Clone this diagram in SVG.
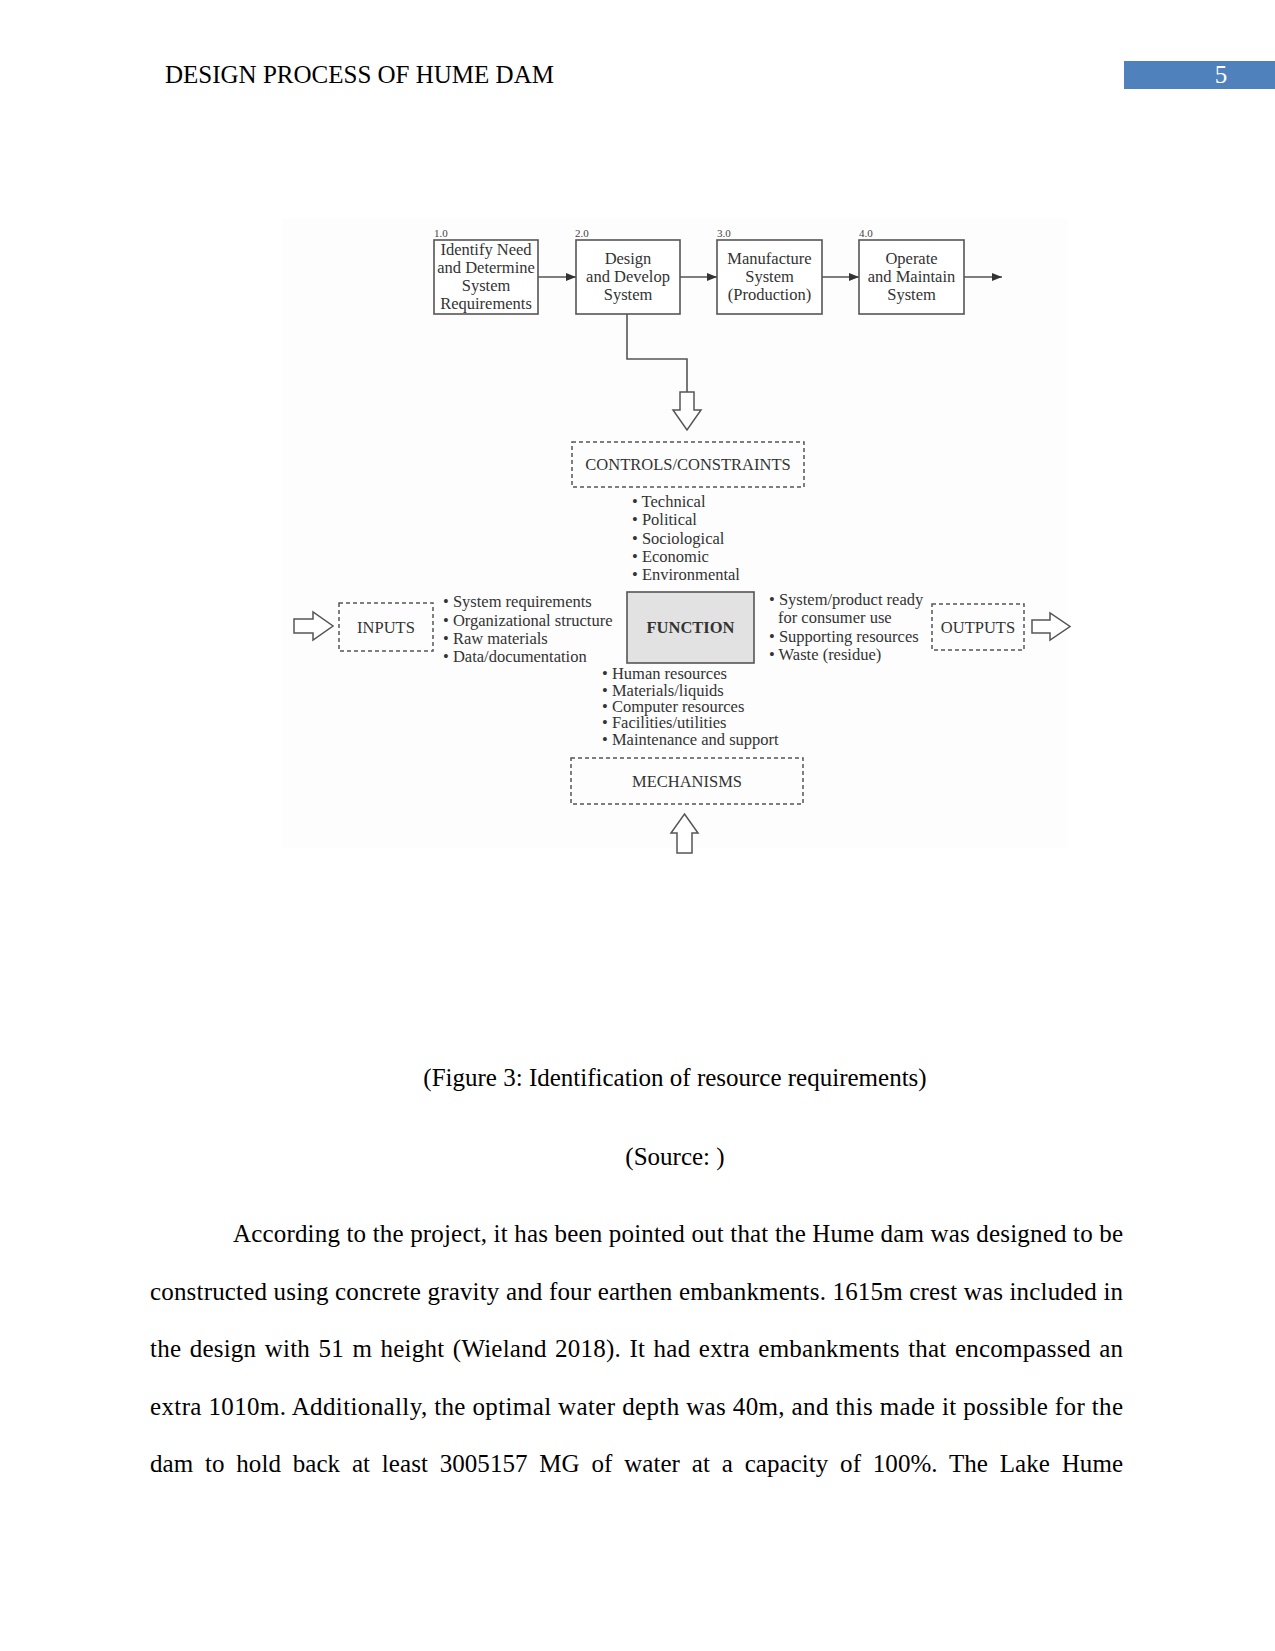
<svg xmlns="http://www.w3.org/2000/svg" width="1275" height="1651" viewBox="0 0 1275 1651">
<defs>
<style>
text{font-family:"Liberation Serif","Times New Roman",serif;}
.hdr{font-size:25px;fill:#000;}
.body{font-size:25px;fill:#000;}
.lbl{font-size:16.5px;fill:#333;}
.num{font-size:11px;fill:#444;}
.box{fill:#fff;stroke:#555;stroke-width:1.6;}
.dash{fill:none;stroke:#555;stroke-width:1.5;stroke-dasharray:4 3;}
.fn{fill:#e2e2e2;stroke:#555;stroke-width:1.6;}
.hollow{fill:#fff;stroke:#555;stroke-width:1.5;stroke-linejoin:miter;}
.line{fill:none;stroke:#555;stroke-width:1.6;}
.c{text-anchor:middle;}
</style>
<marker id="ah" viewBox="0 0 10 8" refX="10" refY="4" markerWidth="10" markerHeight="8" markerUnits="userSpaceOnUse" orient="auto">
<path d="M0,0 L10,4 L0,8 z" fill="#333"/>
</marker>
</defs>
<rect x="0" y="0" width="1275" height="1651" fill="#fff"/>
<!-- header -->
<text class="hdr" x="165" y="83">DESIGN PROCESS OF HUME DAM</text>
<rect x="1124" y="61" width="151" height="28" fill="#4f81bd"/>
<text class="hdr c" x="1221" y="83" style="fill:#fff">5</text>
<!-- faint figure background -->
<rect x="282" y="218" width="786" height="630" fill="#fdfdfd"/>
<!-- connectors -->
<g id="connectors">
<line class="line" x1="538" y1="277" x2="576" y2="277" marker-end="url(#ah)"/>
<line class="line" x1="680" y1="277" x2="717" y2="277" marker-end="url(#ah)"/>
<line class="line" x1="822" y1="277" x2="859" y2="277" marker-end="url(#ah)"/>
<line class="line" x1="964" y1="277" x2="1002" y2="277" marker-end="url(#ah)"/>
<polyline class="line" points="627,314 627,359 687,359 687,392"/>
<polygon class="hollow" points="680,392 694,392 694,410 701,410 687,430 673,410 680,410"/>
<polygon class="hollow" points="684.5,814 698,833 692,833 692,853 677,853 677,833 671,833"/>
<polygon class="hollow" points="294,619 313,619 313,612 333,626 313,640 313,633 294,633"/>
<polygon class="hollow" points="1032,620 1050,620 1050,613 1070,626.5 1050,640 1050,633 1032,633"/>
</g>
<!-- process boxes -->
<g id="n1">
<text class="num" x="434" y="237">1.0</text>
<rect class="box" x="434" y="240" width="104" height="74"/>
<text class="lbl c" x="486" y="255">Identify Need</text>
<text class="lbl c" x="486" y="273">and Determine</text>
<text class="lbl c" x="486" y="291">System</text>
<text class="lbl c" x="486" y="309">Requirements</text>
</g>
<g id="n2">
<text class="num" x="575" y="237">2.0</text>
<rect class="box" x="576" y="240" width="104" height="74"/>
<text class="lbl c" x="628" y="264">Design</text>
<text class="lbl c" x="628" y="282">and Develop</text>
<text class="lbl c" x="628" y="300">System</text>
</g>
<g id="n3">
<text class="num" x="717" y="237">3.0</text>
<rect class="box" x="717" y="240" width="105" height="74"/>
<text class="lbl c" x="769.5" y="264">Manufacture</text>
<text class="lbl c" x="769.5" y="282">System</text>
<text class="lbl c" x="769.5" y="300">(Production)</text>
</g>
<g id="n4">
<text class="num" x="859" y="237">4.0</text>
<rect class="box" x="859" y="240" width="105" height="74"/>
<text class="lbl c" x="911.5" y="264">Operate</text>
<text class="lbl c" x="911.5" y="282">and Maintain</text>
<text class="lbl c" x="911.5" y="300">System</text>
</g>
<!-- controls -->
<g id="controls">
<rect class="dash" x="572" y="442" width="232" height="45"/>
<text class="lbl c" x="688" y="470">CONTROLS/CONSTRAINTS</text>
<text class="lbl" x="632" y="507">• Technical</text>
<text class="lbl" x="632" y="525">• Political</text>
<text class="lbl" x="632" y="544">• Sociological</text>
<text class="lbl" x="632" y="562">• Economic</text>
<text class="lbl" x="632" y="580">• Environmental</text>
</g>
<!-- inputs -->
<g id="inputs">
<rect class="dash" x="339" y="603" width="94" height="48"/>
<text class="lbl c" x="386" y="633">INPUTS</text>
<text class="lbl" x="443" y="607">• System requirements</text>
<text class="lbl" x="443" y="626">• Organizational structure</text>
<text class="lbl" x="443" y="644">• Raw materials</text>
<text class="lbl" x="443" y="662">• Data/documentation</text>
</g>
<!-- function -->
<g id="function">
<rect class="fn" x="627" y="592" width="127" height="71"/>
<text class="lbl c" x="690.5" y="633" style="font-weight:bold">FUNCTION</text>
</g>
<!-- outputs -->
<g id="outputs">
<text class="lbl" x="769" y="605">• System/product ready</text>
<text class="lbl" x="778" y="623">for consumer use</text>
<text class="lbl" x="769" y="642">• Supporting resources</text>
<text class="lbl" x="769" y="660">• Waste (residue)</text>
<rect class="dash" x="932" y="604" width="92" height="46"/>
<text class="lbl c" x="978" y="633">OUTPUTS</text>
</g>
<!-- mechanisms -->
<g id="mechanisms">
<text class="lbl" x="602" y="679">• Human resources</text>
<text class="lbl" x="602" y="696">• Materials/liquids</text>
<text class="lbl" x="602" y="712">• Computer resources</text>
<text class="lbl" x="602" y="728">• Facilities/utilities</text>
<text class="lbl" x="602" y="745">• Maintenance and support</text>
<rect class="dash" x="571" y="758" width="232" height="46"/>
<text class="lbl c" x="687" y="787">MECHANISMS</text>
</g>
<!-- caption -->
<text class="body c" x="675" y="1086">(Figure 3: Identification of resource requirements)</text>
<text class="body c" x="675" y="1165">(Source: )</text>
<!-- body -->
<text class="body" x="233" y="1242" textLength="890" lengthAdjust="spacing">According to the project, it has been pointed out that the Hume dam was designed to be</text>
<text class="body" x="150" y="1300" textLength="973" lengthAdjust="spacing">constructed using concrete gravity and four earthen embankments. 1615m crest was included in</text>
<text class="body" x="150" y="1357" word-spacing="2" textLength="973" lengthAdjust="spacing">the design with 51 m height (Wieland 2018). It had extra embankments that encompassed an</text>
<text class="body" x="150" y="1415" textLength="973" lengthAdjust="spacing">extra 1010m. Additionally, the optimal water depth was 40m, and this made it possible for the</text>
<text class="body" x="150" y="1472" word-spacing="5.5" textLength="973" lengthAdjust="spacing">dam to hold back at least 3005157 MG of water at a capacity of 100%. The Lake Hume</text>
</svg>
